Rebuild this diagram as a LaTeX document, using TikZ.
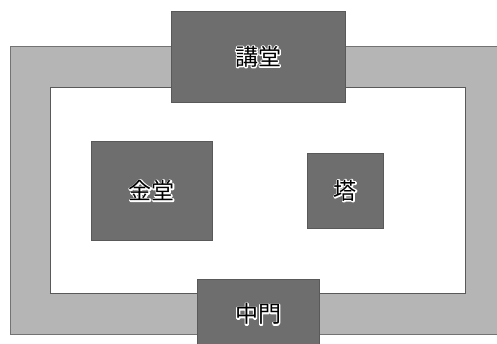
\documentclass[tikz,border=0pt]{standalone}
\usepackage{fontspec}
\setmainfont{Noto Sans CJK JP}
% white halo round the labels
\newcommand{\halo}[1]{\special{pdf:literal 1 Tr 2.4 w 1 j 1 1 1 RG}#1\special{pdf:literal 0 Tr 1 w 0 j 0 0 0 RG}}
\begin{document}
\begin{tikzpicture}[x=1pt,y=-1pt, every node/.style={font=\fontsize{23}{23}\selectfont},
  hall/.style={draw=black!65,fill=black!57,inner sep=0pt,anchor=north west},
  lbl/.style={text=black,inner sep=0pt}]
\useasboundingbox (0,0) rectangle (497,344);
% corridor and courtyard
\draw[draw=black!55,fill=black!29] (10,46) rectangle (510,334);
\draw[draw=black!65,fill=white] (50,87) rectangle (465,293);
% buildings
\node[hall,minimum width=174pt,minimum height=91pt] (kodo) at (171,11) {};
\node[hall,minimum width=121pt,minimum height=99pt] (kondo) at (91,141) {};
\node[hall,minimum width=76pt,minimum height=75pt] (to) at (307,153) {};
\node[hall,minimum width=122pt,minimum height=70pt] (chumon) at (197,279) {};
\foreach \b/\t in {kodo/講堂, kondo/金堂, to/塔, chumon/中門}{
  \node[lbl,text=white] at (\b.center) {\halo{\t}};
  \node[lbl] (\b-lbl) at (\b.center) {\t};
}
\end{tikzpicture}
\end{document}
